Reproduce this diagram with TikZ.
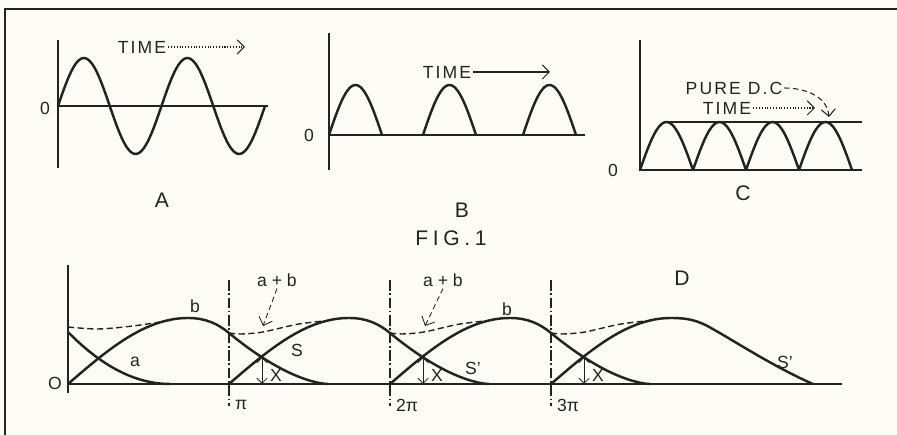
\documentclass[tikz,border=0pt]{standalone}
\usepackage{fontspec}
\setmainfont{Liberation Sans}
\newfontfamily\letterfont[LetterSpace=12]{Liberation Sans}
\newfontfamily\figfont[LetterSpace=22]{Liberation Sans}
\usetikzlibrary{arrows.meta}

\definecolor{ink}{RGB}{35,35,35}
\definecolor{paper}{RGB}{253,253,245}

\tikzset{
  wave/.style={line width=1.4pt, ink},
  axis/.style={line width=0.85pt, ink},
  sumline/.style={line width=0.8pt, ink, dash pattern=on 3.5pt off 2pt},
  lbl/.style={font=\letterfont\fontsize{10}{12}\selectfont, text=ink, inner sep=1pt},
  panel/.style={font=\letterfont\fontsize{12}{14}\selectfont, text=ink},
  small/.style={font=\fontsize{10}{11}\selectfont, text=ink, inner sep=1pt},
  timearrow/.style={-{Straight Barb[length=4pt]}, line width=0.6pt, ink},
  xarrow/.style={{Straight Barb[length=3pt]}-{Straight Barb[length=3pt]}, line width=0.5pt, ink},
  halfpi/.style={dash pattern=on 6pt off 1.5pt on 1pt off 1.5pt, line width=0.6pt, ink},
}

\begin{document}
\begin{tikzpicture}[x=0.02cm, y=0.02cm]

\fill[paper] (0,0) rectangle (897,435);
\useasboundingbox (0,0) rectangle (897,435);

% Frame
\draw[line width=1.6pt, ink] (5,0) -- (5,426) -- (897,426);

% A: alternating current
\begin{scope}[shift={(58,329)}]
\draw[axis] (0,66) -- (0,-62);
\draw[axis] (0,0) -- (210,0);
\draw[wave] plot[domain=0:207, samples=90, smooth] (\x, {48*sin((\x/103.5)*360)});
\node[lbl, anchor=east] (zeroA) at (-6,-2) {0};
\node[lbl] (timeA) at (84,59) {TIME};
\coordinate (tipA) at (187,59);
\draw[timearrow, densely dotted] (timeA.east) -- (tipA);
\node[panel] (labA) at (104,-94) {A};
\end{scope}

% B: half wave
\begin{scope}[shift={(329,300)}]
\draw[axis] (0,102) -- (0,-35);
\draw[axis] (0,0) -- (256,0);
\foreach \s in {0,94,194}
  \draw[wave] plot[domain=0:53, samples=30, smooth] ({\s+\x}, {50*sin((\x/53)*180)});
\node[lbl, anchor=east] (zeroB) at (-13,0) {0};
\node[lbl] (timeB) at (118,63) {TIME};
\coordinate (tipB) at (221,63);
\draw[timearrow] (timeB.east) -- (tipB);
\node[panel] (labB) at (133,-75) {B};
\end{scope}

% C: full wave
\begin{scope}[shift={(640,265)}]
\draw[axis] (0,130) -- (0,0) -- (222,0);
\draw[axis] (25,48) -- (222,48);
\foreach \s in {0,53,106,159}
  \draw[wave] plot[domain=0:53, samples=30, smooth] ({\s+\x}, {48*sin((\x/53)*180)});
\node[lbl, anchor=east] (zeroC) at (-20,0) {0};
\node[lbl] (pureC) at (94,82) {PURE D.C};
\coordinate (dcC) at (189,53);
\draw[timearrow, densely dashed] (pureC.east) to[out=0, in=95] (dcC);
\node[lbl] (timeC) at (87,62) {TIME};
\coordinate (tipC) at (175,62);
\draw[timearrow, densely dotted] (timeC.east) -- (tipC);
\node[panel] (labC) at (103,-23) {C};
\end{scope}

\node[font=\figfont\fontsize{12}{14}\selectfont, text=ink] (fig) at (451,197) {FIG.1};

% D: condenser input
\begin{scope}[shift={(68,51)}]
\draw[axis] (0,119) -- (0,-9);
\draw[axis] (0,0) -- (774,0);
\node[small, anchor=east] (zeroD) at (-4,1) {O};

% pi marks
\foreach \n/\t in {1/π, 2/2π, 3/3π} {
  \draw[halfpi] ({161*\n},104) -- ({161*\n},-22);
  \node[small, anchor=west] (pi\n) at ({161*\n+4},-21) {\t};
}

% Humps b and S
\foreach \s in {0,161,322}
  \draw[wave, shift={(\s,0)}]
    plot[domain=0:120, samples=40] (\x, {66*sin(\x*0.75)})
    .. controls (138,66) and (150,60) .. (161,51)
    -- plot[domain=161:259, samples=40] (\x, {51*((260-\x)/99)^1.6}) -- (260,0);
\draw[wave, shift={(483,0)}]
    plot[domain=0:120, samples=40] (\x, {66*sin(\x*0.75)})
    .. controls (136,66) and (146,64) .. (160,56)
    .. controls (185,42) and (225,16) .. (262,0);
\draw[wave] plot[domain=0:102, samples=40] (\x, {52*((102-\x)/102)^2});

% a+b
\draw[sumline] plot[smooth] coordinates {(0,57) (30,55) (65,58) (105,64)};
\foreach \s in {161,322,483}
  \draw[sumline, shift={(\s,0)}] plot[smooth] coordinates {(0,51) (12,50) (34,52) (70,60) (105,64)};

% X gaps
\foreach \c/\k in {194/1, 355/2, 516/3} {
  \coordinate (top\k) at (\c,27);
  \coordinate (bot\k) at (\c,0);
  \draw[xarrow] (top\k) -- (bot\k);
  \node[small, anchor=west] (x\k) at (\c+6,9) {X};
}

% Labels
\node[small] (bA) at (127,78) {b};
\node[small] (aA) at (67,22) {a};
\node[small] (sA) at (229,34) {S};
\node[small] (sB) at (405,16) {S'};
\node[small] (sC) at (717,22) {S'};
\node[small] (bB) at (439,75) {b};
\node[small] (abA) at (209,104) {a + b};
\node[small] (abB) at (375,104) {a + b};
\coordinate (abAtip) at (195,58);
\coordinate (abBtip) at (357,58);
\draw[timearrow, densely dashed, line width=0.5pt] (abA.south) -- (abAtip);
\draw[timearrow, densely dashed, line width=0.5pt] (abB.south) -- (abBtip);
\node[panel] (labD) at (614,106) {D};
\end{scope}

\end{tikzpicture}
\end{document}
